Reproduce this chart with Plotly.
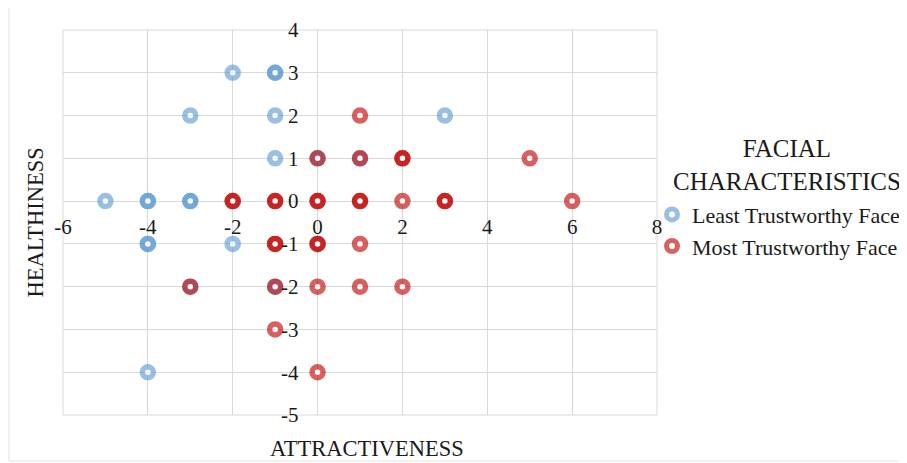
import plotly.graph_objects as go

# Least Trustworthy Face (duplicates = overlapping responses)
least_x = [-2, -1, -1, -3, -1, 3, -1, -5, -4, -4, -3, -3, -4, -4, -2, -4, 0, 1, -3, -1]
least_y = [3, 3, 3, 2, 2, 2, 1, 0, 0, 0, 0, 0, -1, -1, -1, -4, 1, 1, -2, -2]

# Most Trustworthy Face
most_x = [1, 0, 1, 2, 2, 5, -2, -2, -1, -1, 0, 0, 1, 1, 2, 3, 3, 6,
          -1, -1, 0, 0, 1, -3, -1, 0, 1, 2, -1, 0]
most_y = [2, 1, 1, 1, 1, 1, 0, 0, 0, 0, 0, 0, 0, 0, 0, 0, 0, 0,
          -1, -1, -1, -1, -1, -2, -2, -2, -2, -2, -3, -4]

x_ticks = [-6, -4, -2, 0, 2, 4, 6, 8]
x_tick_labels = ["-6", "-4", "-2", "0", "2", "4", "6", "8"]
y_ticks = [-5, -4, -3, -2, -1, 0, 1, 2, 3, 4]
y_tick_labels = ["-5", "-4", "-3", "-2", "-1", "0", "1", "2", "3", "4"]

FONT = "Liberation Serif"

fig = go.Figure()
fig.add_trace(go.Scatter(
    x=least_x, y=least_y, mode="markers", name="Least Trustworthy Face",
    marker=dict(size=11, color="white", opacity=0.62,
                line=dict(color="rgb(91,155,213)", width=5.5)),
))
fig.add_trace(go.Scatter(
    x=most_x, y=most_y, mode="markers", name="Most Trustworthy Face",
    marker=dict(size=11, color="white", opacity=0.62,
                line=dict(color="rgb(192,0,0)", width=5.5)),
))

fig.update_layout(
    width=899, height=455,
    margin=dict(l=55, r=250, t=22, b=48, autoexpand=False),
    plot_bgcolor="white", paper_bgcolor="white",
    font=dict(family=FONT, size=21, color="#1a1a1a"),
    xaxis=dict(range=[-6, 8], tickvals=x_ticks, ticktext=x_tick_labels,
               showgrid=True, gridcolor="#d9d9d9",
               gridwidth=1, zeroline=False, showline=False, automargin=False,
               anchor="free", position=5/9, ticks="", tickfont=dict(size=21),
               ticklabelstandoff=11, domain=[0, 1]),
    yaxis=dict(range=[-5, 4], tickvals=y_ticks, ticktext=y_tick_labels,
               showgrid=True, gridcolor="#d9d9d9",
               gridwidth=1, zeroline=False, showline=False, automargin=False,
               anchor="free", position=6/14, ticks="", tickfont=dict(size=21),
               ticklabelstandoff=19, domain=[0, 1]),
    legend=dict(x=0.9916, y=0.575, xanchor="left", yanchor="top",
                font=dict(size=22), itemwidth=30, tracegroupgap=4,
                bgcolor="rgba(0,0,0,0)"),
    showlegend=True,
    annotations=[
        dict(text="FACIAL<br>CHARACTERISTICS", xref="paper", yref="paper",
             x=1.219, y=0.649, showarrow=False, align="center",
             font=dict(size=25), xanchor="center", yanchor="middle"),
        dict(text="HEALTHINESS", xref="paper", yref="paper", x=-0.047, y=0.5,
             textangle=-90, showarrow=False, font=dict(size=22.5),
             xanchor="center", yanchor="middle"),
        dict(text="ATTRACTIVENESS", xref="paper", yref="paper", x=0.512, y=-0.088,
             showarrow=False, font=dict(size=22.5), xanchor="center", yanchor="middle"),
    ],
    shapes=[
        dict(type="rect", xref="paper", yref="paper", x0=-0.0909, x1=1.419,
             y0=-0.1195, y1=1.0597, line=dict(color="#e3e3e3", width=1),
             fillcolor="rgba(0,0,0,0)", layer="below"),
        dict(type="rect", xref="paper", yref="paper", x0=0, x1=1, y0=0, y1=1,
             line=dict(color="#d9d9d9", width=1), fillcolor="rgba(0,0,0,0)",
             layer="below"),
    ],
)

fig.write_html("out.html")
